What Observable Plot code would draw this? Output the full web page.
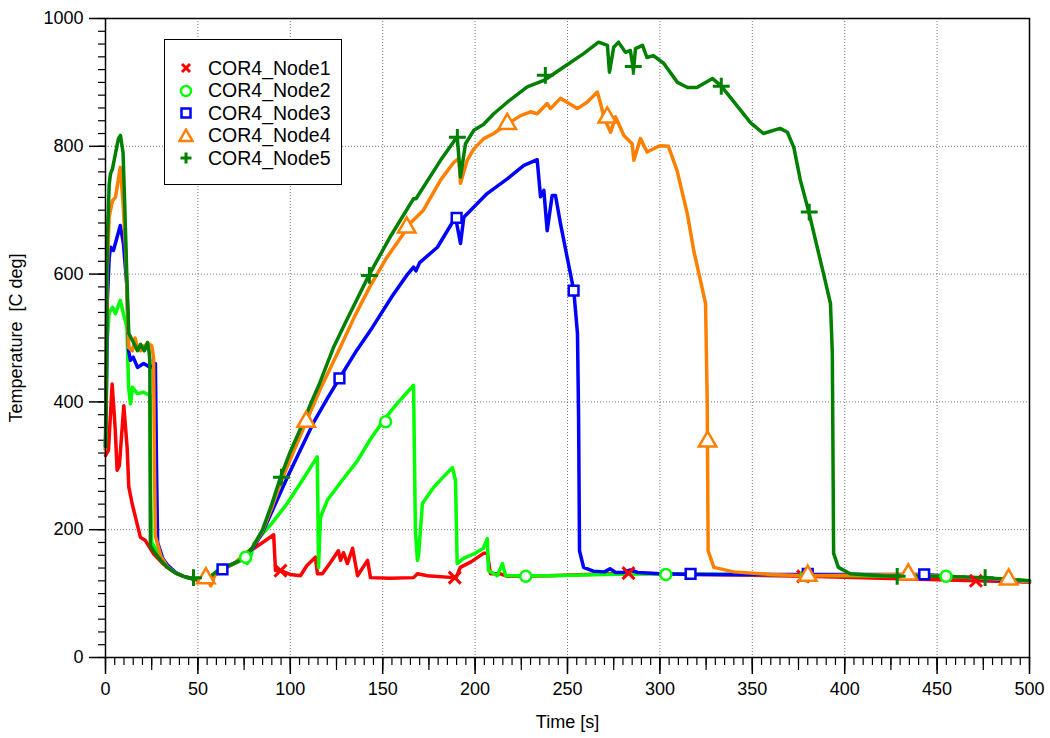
<!DOCTYPE html>
<html>
<head>
<meta charset="utf-8">
<script src="https://cdn.jsdelivr.net/npm/d3@7"></script>
<script src="https://cdn.jsdelivr.net/npm/@observablehq/plot@0.6"></script>
<style>
  html, body { margin: 0; padding: 0; background: #fff; }
  #wrap { position: relative; width: 1050px; height: 738px; font-family: "Liberation Sans", Arial, sans-serif; }
  #legend { position: absolute; left: 164px; top: 39px; width: 176px; height: 144px; border: 1.5px solid #000; background: #fff; box-sizing: content-box; }
  .row { position: absolute; left: 0; height: 22px; display: flex; align-items: center; font-size: 19.5px; color: #000; }
  .row svg { margin-left: 13px; margin-right: 14px; }
</style>
</head>
<body>
<div id="wrap"><div id="legend"></div></div>
<script>
// ---------- data ----------
const seriesNames = ["COR4_Node1", "COR4_Node2", "COR4_Node3", "COR4_Node4", "COR4_Node5"];
const seriesColors = ["#ff0000", "#00ff00", "#0000ff", "#ff8000", "#008000"];
const seriesSymbols = ["times", "circle", "square", "triangle", "plus"];

const n1t = [0, 1.6, 3.6, 5.2, 6.3, 7.5, 9.9, 11.7, 12.6, 14.4, 17.1, 18.9, 21.6, 26.1, 30, 33.4, 38, 42.3, 46, 50, 55, 60.6, 66, 73, 80, 86, 91, 92, 94.7, 100, 105.5, 109, 113.6, 114.7, 117.4, 122, 126, 127.2, 128.8, 130.9, 133.7, 136.4, 141.8, 143.4, 154, 166.7, 168.8, 174.2, 188.3, 190, 192, 198, 204.5, 206.6, 208.3, 213.7, 217.5, 240, 260, 283, 300, 340, 380, 420, 471, 500];
const n1v = [316, 324, 428, 360, 293, 300, 394, 329, 267, 241, 209, 188, 183, 162, 150, 141, 132, 127, 124, 121, 122, 134, 142, 152, 170, 182, 192, 136, 136, 130, 128, 144, 157, 131, 131, 150, 167, 152, 164, 147, 171, 128, 152, 125, 124, 125, 131, 128, 125, 127, 141, 150, 163, 163, 131, 131, 127, 128, 130, 132, 131, 129, 127, 124, 120, 118];

const n2t = [0, 0.5, 1, 2, 3.8, 5.4, 8, 9.7, 11.6, 12.5, 13.5, 14.6, 17.3, 20.6, 24, 24.5, 25, 30, 33.4, 38, 42.3, 46, 50, 55, 60, 66, 72, 74, 76.7, 78, 80.3, 90, 98.3, 106, 114.6, 115.3, 116.3, 120, 128, 136.4, 143, 150.4, 158, 166.7, 167.7, 168.8, 169.4, 171.5, 177.5, 183, 187.7, 188.5, 189.4, 190.3, 193.7, 200, 204.5, 206.6, 207.2, 212, 214.8, 216.5, 224.6, 240, 270, 300, 350, 400, 455, 500];
const n2v = [330, 420, 500, 540, 548, 538, 559, 538, 517, 423, 397, 423, 413, 415, 410, 250, 180, 157, 143, 132, 127, 124, 122, 124, 133, 142, 150, 155, 147, 152, 178, 210, 241, 275, 314, 141, 219, 246, 277, 308, 340, 371, 398, 426, 199, 152, 160, 241, 266, 283, 297, 288, 277, 147, 155, 163, 171, 186, 136, 128, 147, 128, 128, 128, 130, 131, 130, 128, 127, 120];

const n3t = [0, 0.5, 1, 2, 2.7, 4.3, 6, 8, 9.7, 11.6, 12.5, 13.5, 15, 17.3, 20.6, 24.3, 27, 27.6, 28.2, 31, 33.4, 38, 42.3, 46, 50, 55, 60, 63.3, 70, 79.5, 85, 90, 98.4, 105, 113, 120, 126.6, 136, 143.4, 155, 163, 166.7, 168, 170, 179.6, 189.4, 192.1, 193.9, 206.5, 217.4, 226.4, 233.6, 235.4, 237.2, 239, 241.7, 243.5, 246.2, 253.4, 255.4, 256, 256.5, 258.7, 264, 270, 273, 276, 280, 284, 288, 300, 320, 380, 443, 500];
const n3v = [325, 420, 560, 625, 642, 637, 655, 676, 648, 580, 480, 465, 470, 454, 460, 454, 460, 300, 180, 155, 145, 133, 127, 124, 122, 124, 132, 138, 148, 170, 196, 228, 282, 322, 370, 405, 437, 481, 512, 565, 598, 611, 605, 618, 642, 689, 648, 689, 726, 749, 770, 779, 721, 731, 668, 723, 723, 679, 574, 507, 376, 167, 141, 135, 134, 139, 133, 133, 137, 133, 131, 130, 130, 130, 118];

const n4t = [0, 0.5, 1, 2, 3.8, 5.4, 8, 9.5, 11, 12.5, 14.5, 16, 17.3, 19, 21, 23.3, 25, 26, 26.5, 27, 30, 33.4, 38, 42.3, 46, 50, 55, 57, 59, 63, 70, 79.5, 85, 90, 95, 100, 108.6, 117, 127, 135, 143, 152, 163.4, 165, 172, 181.3, 188.5, 191.2, 192.1, 195.7, 199.3, 204.7, 210.1, 217.4, 224.6, 230, 233.6, 239, 240.8, 246.2, 249.8, 255.3, 260.6, 266.1, 267.9, 269.6, 273.3, 276, 280.5, 285, 285.9, 289.5, 293.1, 298.5, 300.3, 304.6, 309.3, 314.8, 318.3, 324.7, 325.6, 326.1, 329.2, 340, 360, 380, 434, 488, 500];
const n4v = [325, 480, 610, 690, 715, 720, 767, 711, 632, 485, 480, 500, 485, 480, 488, 491, 488, 470, 300, 190, 158, 142, 132, 127, 124, 122, 124, 112, 128, 138, 148, 172, 198, 235, 275, 310, 369, 425, 485, 535, 580, 625, 672, 680, 700, 747, 775, 781, 742, 778, 796, 812, 820, 835, 848, 854, 851, 867, 859, 875, 869, 859, 869, 885, 867, 846, 822, 846, 817, 804, 778, 812, 791, 799, 801, 800, 762, 695, 637, 554, 402, 167, 141, 134, 130, 128, 130, 122, 118];

const n5t = [0, 0.5, 1, 2, 2.7, 3.8, 5.4, 7, 8.1, 9.5, 10.5, 11.5, 12.6, 14.6, 16, 17.3, 19, 21, 22.7, 23.5, 24, 24.3, 27, 30, 33.4, 38, 42.3, 46, 50, 55, 60.6, 66, 73, 79.5, 85, 90, 94.7, 100, 105.5, 110, 116, 123.5, 130, 142.5, 154, 166.7, 168, 181.3, 190.3, 192.1, 194.8, 199.3, 204.5, 210.1, 217.4, 228.2, 237.2, 248, 258.7, 266.8, 271.6, 272.7, 275, 277.6, 281.4, 284, 285.7, 286.8, 290.6, 293, 296.5, 302, 309.5, 315, 320, 328.5, 333, 338, 349, 356, 365, 369, 372.5, 376, 380.6, 388.5, 392.3, 393.3, 393.7, 394, 396.6, 403, 420, 450, 476, 500];
const n5v = [330, 520, 650, 740, 757, 765, 789, 812, 817, 790, 700, 600, 507, 496, 488, 480, 490, 480, 493, 480, 465, 175, 163, 152, 141, 132, 127, 124, 122, 122, 136, 143, 152, 172, 200, 240, 282, 322, 358, 390, 430, 486, 525, 598, 658, 718, 718, 778, 815, 752, 804, 825, 834, 851, 869, 893, 903, 924, 945, 963, 958, 916, 955, 963, 947, 950, 919, 953, 958, 939, 942, 930, 900, 892, 892, 906, 895, 877, 837, 820, 828, 822, 798, 747, 697, 601, 554, 476, 300, 163, 141, 131, 128, 127, 125, 120];

// markers (time, value) per series
const m1t = [94.7, 189, 283, 377.5, 471];
const m1v = [136, 125, 132, 127, 120];
const m2t = [75.8, 151.6, 227.4, 303.2, 379, 454.8];
const m2v = [157, 369, 127, 130, 128, 127];
const m3t = [63.3, 126.6, 190, 253.3, 316.6, 380, 443];
const m3v = [138, 437, 688, 574, 131, 131, 130];
const m4t = [54.3, 108.6, 163, 217.4, 271.5, 325.8, 380, 434.4, 488.7];
const m4v = [124, 369, 673, 835, 845, 338, 128, 130, 122];
const m5t = [47.6, 95.2, 142.8, 190.4, 238, 285.6, 333.2, 380.8, 428.4, 476];
const m5v = [125, 282, 598, 814, 911, 925, 894, 697, 127, 125];

const xTicksMajor = d3.range(0, 501, 50);
const xTicksMid = d3.range(0, 501, 25);
const xTicksMinor = d3.range(0, 501, 5);
const yTicksMajor = d3.range(0, 1001, 200);
const yTicksMinor = d3.range(0, 1001, 20);

// ---------- chart ----------
const lines = [[n1t, n1v], [n2t, n2v], [n3t, n3v], [n4t, n4v], [n5t, n5v]];
const marks = [[m1t, m1v], [m2t, m2v], [m3t, m3v], [m4t, m4v], [m5t, m5v]];

const seriesMarks = [];
lines.forEach(([t, v], i) => {
  const pts = t.map((d, j) => ({t: d, v: v[j]}));
  seriesMarks.push(Plot.line(pts, {x: "t", y: "v", stroke: seriesColors[i], strokeWidth: 3.5, strokeLinejoin: "round"}));
});
marks.forEach(([t, v], i) => {
  const pts = t.map((d, j) => ({t: d, v: v[j]}));
  const sym = seriesSymbols[i];
  const open = sym === "times" || sym === "plus";
  seriesMarks.push(Plot.dot(pts, {x: "t", y: "v", symbol: () => sym, r: sym === "triangle" ? 6.5 : 5.5,
    stroke: seriesColors[i], strokeWidth: open ? 3 : 2.5, fill: open ? "none" : "#fff"}));
});

const chart = Plot.plot({
  width: 1050,
  height: 738,
  marginLeft: 105,
  marginRight: 21,
  marginTop: 18,
  marginBottom: 81,
  style: {fontFamily: "'Liberation Sans', Arial, sans-serif", fontSize: "18px", color: "#000", background: "#fff"},
  x: {domain: [0, 500]},
  y: {domain: [0, 1000]},
  symbol: {range: seriesSymbols, domain: seriesSymbols},
  marks: [
    Plot.gridX(xTicksMajor, {stroke: "#777", strokeOpacity: 1, strokeDasharray: "1,2", strokeWidth: 1}),
    Plot.gridY(yTicksMajor, {stroke: "#777", strokeOpacity: 1, strokeDasharray: "1,2", strokeWidth: 1}),
    Plot.axisX(xTicksMinor, {tickSize: 8, text: null, label: null, stroke: "#000", strokeWidth: 1.2}),
    Plot.axisX(xTicksMid, {tickSize: 13, text: null, label: null, stroke: "#000", strokeWidth: 1.2}),
    Plot.axisX(xTicksMajor, {tickSize: 17, tickPadding: 8, tickFormat: d => String(d), stroke: "#000", strokeWidth: 1.5, label: "Time [s]", labelAnchor: "center", labelArrow: "none", labelOffset: 70}),
    Plot.axisY(yTicksMinor, {tickSize: 7, text: null, label: null, stroke: "#000", strokeWidth: 1.2}),
    Plot.axisY(yTicksMajor, {tickSize: 16, tickPadding: 6, tickFormat: d => String(d), stroke: "#000", strokeWidth: 1.5, label: "Temperature  [C deg]", labelAnchor: "center", labelArrow: "none", labelOffset: 96}),
    ...seriesMarks,
    Plot.frame({stroke: "#000", strokeWidth: 1.5})
  ]
});
document.getElementById("wrap").prepend(chart);

// ---------- legend ----------
const legend = document.getElementById("legend");
const symPaths = {
  times: '<path d="M-4,-4L4,4M-4,4L4,-4" stroke-width="3" fill="none"/>',
  circle: '<circle r="5" stroke-width="2.5" fill="#fff"/>',
  square: '<rect x="-4.5" y="-4.5" width="9" height="9" stroke-width="2.5" fill="#fff"/>',
  triangle: '<path d="M0,-6.5L6.5,5L-6.5,5Z" stroke-width="2.5" fill="#fff"/>',
  plus: '<path d="M-5.5,0H5.5M0,-5.5V5.5" stroke-width="3" fill="none"/>'
};
seriesNames.forEach((name, i) => {
  const row = document.createElement("div");
  row.className = "row";
  row.style.top = (17 + i * 22.6) + "px";
  row.innerHTML = `<svg width="16" height="16" viewBox="-8 -8 16 16" stroke="${seriesColors[i]}">${symPaths[seriesSymbols[i]]}</svg><span>${name}</span>`;
  legend.appendChild(row);
});
</script>
</body>
</html>
